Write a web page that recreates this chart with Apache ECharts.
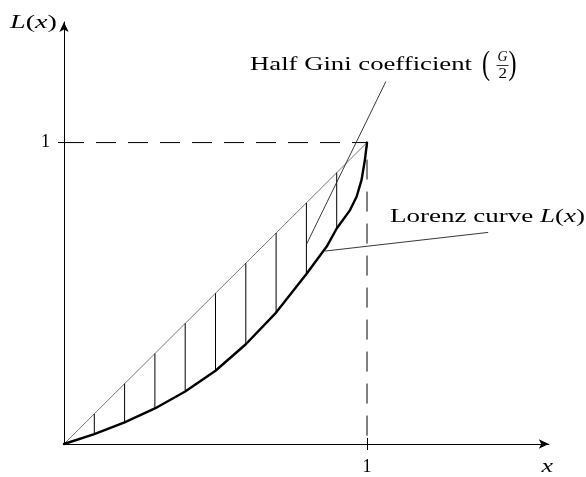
<!DOCTYPE html>
<html><head><meta charset="utf-8">
<script src="https://cdn.jsdelivr.net/npm/echarts@6/dist/echarts.min.js"></script>
<style>html,body{margin:0;padding:0;background:#fff}#c{width:586px;height:477px}</style>
</head><body><div id="c"></div>
<script>
// ---- data ----
const lorenzX = [0, 0.1, 0.2, 0.3, 0.4, 0.5, 0.6, 0.7, 0.8, 0.867, 0.9, 0.944, 0.966, 0.982, 0.993, 1];
const lorenzY = [0, 0.033, 0.072, 0.118, 0.174, 0.243, 0.331, 0.436, 0.564, 0.655, 0.715, 0.776, 0.821, 0.876, 0.942, 1];
const equalityX = [0, 1];
const equalityY = [0, 1];
const hatchX = [0.1, 0.2, 0.3, 0.4, 0.5, 0.6, 0.7, 0.8, 0.9];
const hatchLow = [0.033, 0.072, 0.118, 0.174, 0.243, 0.331, 0.436, 0.564, 0.715];
const hatchHigh = [0.1, 0.2, 0.3, 0.4, 0.5, 0.6, 0.7, 0.8, 0.9];
const guideX = [0, 1, 1];
const guideY = [1, 1, 0];
const giniPointerX = [0.801, 1.062];
const giniPointerY = [0.664, 1.202];
const lorenzPointerX = [0.861, 1.400];
const lorenzPointerY = [0.640, 0.702];
const tickValues = [1];
const tickLabels = ['1'];
const xMax = 1.6, yMax = 1.4;

const SERIF = '"Liberation Serif", "Times New Roman", serif';
const chart = echarts.init(document.getElementById('c'), null, {renderer: 'canvas'});

function seg(xs, ys, lineStyle, extra) {
  return Object.assign({
    type: 'line', data: xs.map((x, i) => [x, ys[i]]), symbol: 'none', showSymbol: false,
    lineStyle: lineStyle, silent: true, animation: false, clip: false
  }, extra || {});
}

const series = [];
series.push(seg(guideX, guideY, {color: '#000', width: 1, type: [20, 12]}, {z: 2}));
series.push(seg(equalityX, equalityY, {color: '#555', width: 0.8}, {z: 3}));
hatchX.forEach((x, i) => {
  series.push(seg([x, x], [hatchLow[i], hatchHigh[i]], {color: '#000', width: 1}, {z: 3}));
});
series.push(seg(giniPointerX, giniPointerY, {color: '#222', width: 0.9}, {z: 4}));
series.push(seg(lorenzPointerX, lorenzPointerY, {color: '#222', width: 0.9}, {z: 4}));
series.push(seg(lorenzX, lorenzY, {color: '#000', width: 2.4, join: 'round', cap: 'round'}, {z: 5}));

// ---- text helpers ----
const mctx = document.createElement('canvas').getContext('2d');
function fontOf(p) { return (p.italic ? 'italic ' : '') + (p.size || 19) + 'px ' + SERIF; }
function textRun(pieces, x0, baseline, targetWidth) {
  let total = 0;
  const ws = pieces.map(p => { mctx.font = fontOf(p); const w = mctx.measureText(p.t).width; total += w; return w; });
  const s = targetWidth ? targetWidth / total : 1;
  let x = x0; const out = [];
  pieces.forEach((p, i) => {
    const fs = p.size || 19;
    out.push({
      type: 'text', x: x, y: baseline - 0.32 * fs + (p.dy || 0), scaleX: (p.sx || 1) * s, silent: true,
      style: {text: p.t, font: fontOf(p), fill: '#000', align: 'left', verticalAlign: 'middle',
              textAlign: 'left', textVerticalAlign: 'middle'}
    });
    x += ws[i] * s * (p.sx || 1);
  });
  return out;
}

const graphics = [];
graphics.push(...textRun([{t: 'L', italic: true}, {t: '('}, {t: 'x', italic: true}, {t: ')'}], 10, 29, 47));
graphics.push(...textRun([{t: 'x', italic: true}], 541.5, 473, 11.5));
graphics.push(...textRun([{t: 'Half Gini coefficient'}], 250, 70.7, 222));
graphics.push(...textRun([{t: '(', size: 34}], 482, 75.5, 8));
graphics.push(...textRun([{t: 'G', italic: true, size: 14}], 497.5, 62, 10));
graphics.push({type: 'line', silent: true, shape: {x1: 496.5, y1: 65.5, x2: 508.5, y2: 65.5}, style: {stroke: '#000', lineWidth: 0.8}});
graphics.push(...textRun([{t: '2', size: 14}], 498.5, 78.5, 8.5));
graphics.push(...textRun([{t: ')', size: 34}], 508.5, 75.5, 8));
graphics.push(...textRun([{t: 'Lorenz curve '}, {t: 'L', italic: true}, {t: '('}, {t: 'x', italic: true}, {t: ')'}], 390, 223.3, 195));

function axisBase(max) {
  return {
    type: 'value', min: 0, max: max,
    axisLine: {show: true, symbol: ['none', 'arrow'], symbolSize: [7, 10], lineStyle: {color: '#000', width: 1}},
    axisTick: {show: true, customValues: tickValues, length: 6, lineStyle: {color: '#000', width: 1}},
    axisLabel: {customValues: tickValues, formatter: v => tickLabels[tickValues.indexOf(v)] || '',
                color: '#000', fontFamily: SERIF, fontSize: 18, margin: 14},
    splitLine: {show: false}
  };
}
function axisInside(max) {
  return {
    type: 'value', min: 0, max: max,
    axisLine: {show: false},
    axisTick: {show: true, inside: true, customValues: tickValues, length: 6, lineStyle: {color: '#000', width: 1}},
    axisLabel: {show: false}, splitLine: {show: false}
  };
}
const xa = axisBase(xMax), ya = axisBase(yMax);
const xi = axisInside(xMax), yi = axisInside(yMax);
xi.position = 'bottom'; yi.position = 'left';

chart.setOption({
  animation: false,
  backgroundColor: '#fff',
  grid: {left: 64, top: 22, right: 37.2, bottom: 33, containLabel: false},
  xAxis: [xa, xi],
  yAxis: [ya, yi],
  series: series,
  graphic: {elements: graphics}
});
</script></body></html>
